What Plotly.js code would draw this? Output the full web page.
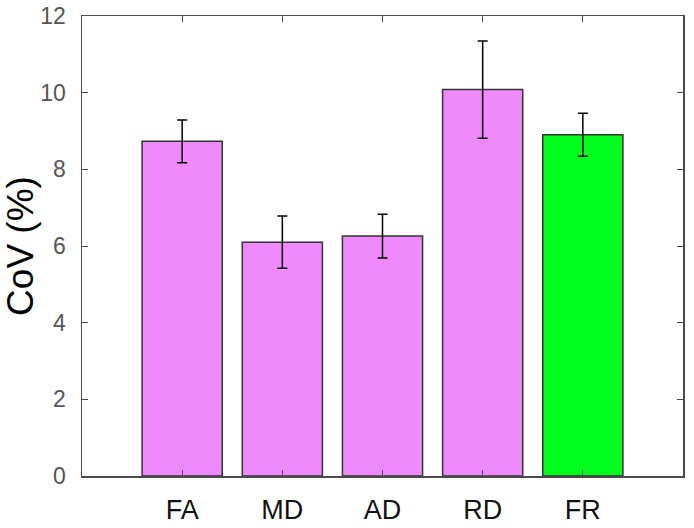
<!DOCTYPE html>
<html>
<head>
<meta charset="utf-8">
<script src="https://cdn.plot.ly/plotly-3.0.1.min.js"></script>
<style>html,body{margin:0;padding:0;background:#fff;}#chart{width:694px;height:528px;}</style>
</head>
<body>
<div id="chart"></div>
<script>
const categories = ["FA", "MD", "AD", "RD", "FR"];
const values = [8.73, 6.10, 6.26, 10.08, 8.90];
const errors = [0.56, 0.68, 0.57, 1.27, 0.56];
const barColors = ["#EE8AFC", "#EE8AFC", "#EE8AFC", "#EE8AFC", "#00FF1E"];
const yTicks = [0, 2, 4, 6, 8, 10, 12];

const trace = {
  type: "bar",
  x: categories,
  y: values,
  width: 0.8,
  marker: {color: barColors, line: {color: "#333333", width: 1.5}},
  error_y: {type: "data", array: errors, visible: true, color: "#000000", thickness: 1.5, width: 5}
};

const layout = {
  width: 694, height: 528,
  margin: {l: 82, r: 11, t: 16, b: 52},
  paper_bgcolor: "#ffffff", plot_bgcolor: "#ffffff",
  showlegend: false,
  font: {family: "Liberation Sans, Arial, sans-serif", color: "#555555"},
  xaxis: {
    range: [-1, 5], showgrid: false, zeroline: false,
    showline: true, linecolor: "#4a4a4a", linewidth: 1.5, mirror: "ticks",
    ticks: "inside", ticklen: 6, tickcolor: "#4a4a4a", tickwidth: 1,
    tickfont: {size: 27, color: "#111111"}, ticklabelstandoff: 9
  },
  yaxis: {
    range: [0, 12], showgrid: false, zeroline: false,
    tickvals: yTicks, ticktext: yTicks.map(String),
    showline: true, linecolor: "#4a4a4a", linewidth: 1.5, mirror: "ticks",
    ticks: "inside", ticklen: 6, tickcolor: "#4a4a4a", tickwidth: 1,
    tickfont: {size: 23, color: "#555555"}, ticklabelstandoff: 10,
    title: {text: "CoV (%)", font: {size: 37, color: "#000000"}, standoff: 3}
  }
};

Plotly.newPlot("chart", [trace], layout, {displayModeBar: false, staticPlot: true});
</script>
</body>
</html>
